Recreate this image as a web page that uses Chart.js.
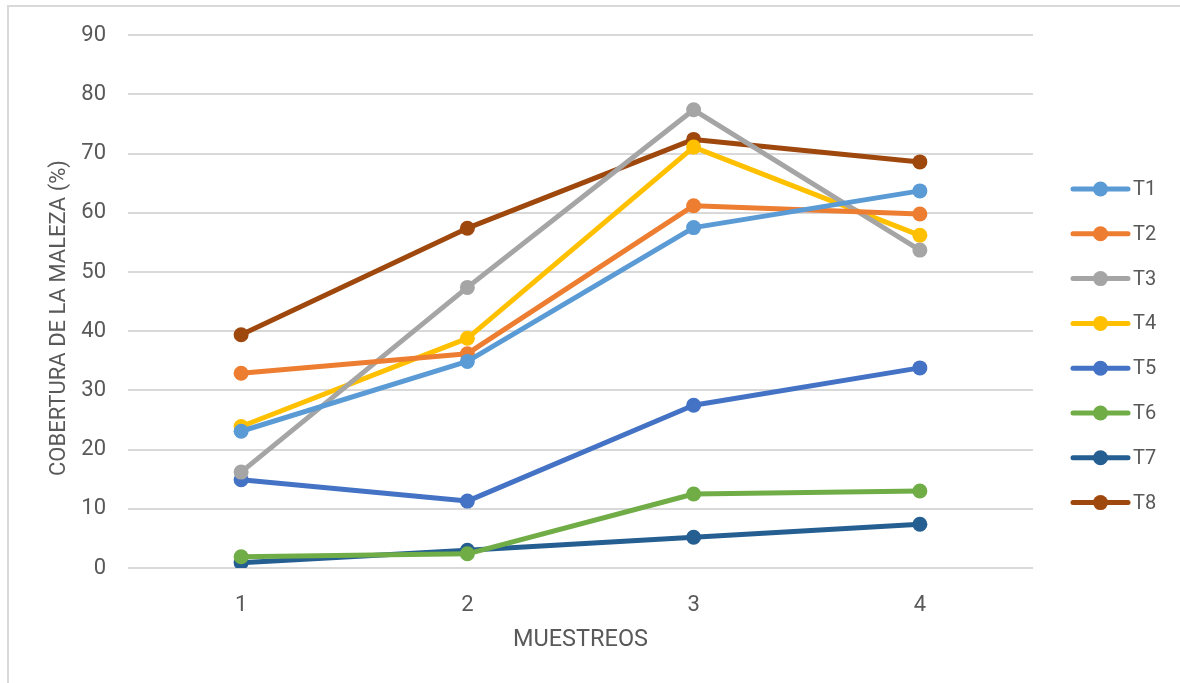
<!DOCTYPE html>
<html>
<head>
<meta charset="utf-8">
<script src="https://cdn.jsdelivr.net/npm/chart.js@4/dist/chart.umd.min.js"></script>
<style>
  html, body { margin: 0; padding: 0; background: #fff; overflow: hidden; }
  #wrap { position: relative; width: 1180px; height: 683px; }
  #frame {
    position: absolute; left: 7px; top: 5px; width: 1300px; height: 800px;
    border: 2px solid #d9d9d9; box-sizing: border-box;
  }
  #myChart { position: absolute; left: 0; top: 0; }
</style>
</head>
<body>
<div id="wrap">
  <div id="frame"></div>
  <canvas id="myChart" width="1180" height="683"></canvas>
</div>
<script>
// setup
const muestreos = ["1", "2", "3", "4"];
const yTicks = [0, 10, 20, 30, 40, 50, 60, 70, 80, 90];

const t1 = [23.1, 34.9, 57.5, 63.7];
const t2 = [32.9, 36.2, 61.2, 59.8];
const t3 = [16.2, 47.4, 77.4, 53.7];
const t4 = [23.9, 38.8, 71.1, 56.2];
const t5 = [14.9, 11.3, 27.5, 33.8];
const t6 = [1.9, 2.4, 12.5, 13.0];
const t7 = [0.9, 3.0, 5.2, 7.4];
const t8 = [39.4, 57.4, 72.4, 68.6];

const series = [
  { label: "T1", values: t1, color: "#5B9BD5" },
  { label: "T2", values: t2, color: "#ED7D31" },
  { label: "T3", values: t3, color: "#A5A5A5" },
  { label: "T4", values: t4, color: "#FFC000" },
  { label: "T5", values: t5, color: "#4472C4" },
  { label: "T6", values: t6, color: "#70AD47" },
  { label: "T7", values: t7, color: "#255E91" },
  { label: "T8", values: t8, color: "#9E480E" },
];

const yTitle = "COBERTURA DE LA MALEZA (%)";
const textGray = "#595959";
const fontFamily = "Roboto, 'Open Sans', sans-serif";

const data = {
  labels: muestreos,
  datasets: series.map((s) => ({
    label: s.label,
    data: s.values,
    borderColor: s.color,
    backgroundColor: s.color,
    pointBackgroundColor: s.color,
    pointBorderColor: s.color,
    borderWidth: 5,
    pointRadius: 7.5,
    pointBorderWidth: 0,
    fill: false,
    tension: 0,
    borderCapStyle: "round",
    borderJoinStyle: "round",
  })),
};

// legend on the right (line sample with a dot, then the label)
// and the vertical axis title, a little below the middle of the plot
const sideLegend = {
  id: "sideLegend",
  afterDraw(chart) {
    const ctx = chart.ctx;
    const x0 = 1073, x1 = 1128, top = 189, step = 44.8;
    ctx.save();
    ctx.font = "20px " + fontFamily;
    ctx.textBaseline = "middle";
    ctx.textAlign = "left";
    chart.data.datasets.forEach((ds, i) => {
      const y = top + i * step;
      ctx.strokeStyle = ds.borderColor;
      ctx.lineWidth = 5;
      ctx.lineCap = "round";
      ctx.beginPath();
      ctx.moveTo(x0, y);
      ctx.lineTo(x1, y);
      ctx.stroke();
      ctx.fillStyle = ds.borderColor;
      ctx.beginPath();
      ctx.arc((x0 + x1) / 2, y, 7.5, 0, Math.PI * 2);
      ctx.fill();
      ctx.fillStyle = textGray;
      ctx.fillText(ds.label, 1133, y + 1);
    });

    ctx.translate(58, 318);
    ctx.rotate(-Math.PI / 2);
    ctx.font = "22px " + fontFamily;
    ctx.textAlign = "center";
    ctx.fillText(yTitle, 0, 1);
    ctx.restore();
  },
};

// config
const config = {
  type: "line",
  data,
  options: {
    responsive: false,
    animation: false,
    layout: {
      padding: { top: 34, right: 147, bottom: 0, left: 0 },
    },
    scales: {
      x: {
        offset: true,
        grid: { display: false, drawTicks: false },
        border: { display: false },
        afterFit(scale) {
          scale.height = 683 - 568;
        },
        title: {
          display: true,
          text: "MUESTREOS",
          color: textGray,
          font: { size: 23.5, family: fontFamily },
          padding: { top: 0, bottom: 29 },
        },
        ticks: {
          padding: 24,
          color: textGray,
          font: { size: 22, family: fontFamily },
        },
      },
      y: {
        min: 0,
        max: 90,
        afterFit(scale) {
          scale.width = 128;
        },
        afterBuildTicks(scale) {
          scale.ticks = yTicks.map((v) => ({ value: v }));
        },
        grid: {
          color: "#d9d9d9",
          lineWidth: 2,
          drawTicks: false,
        },
        border: { display: false },
        ticks: {
          padding: 22,
          color: textGray,
          font: { size: 22, family: fontFamily },
        },
      },
    },
    plugins: {
      legend: { display: false },
      tooltip: { enabled: false },
    },
  },
  plugins: [sideLegend],
};

// render init block
const myChart = new Chart(document.getElementById("myChart"), config);
</script>
</body>
</html>
